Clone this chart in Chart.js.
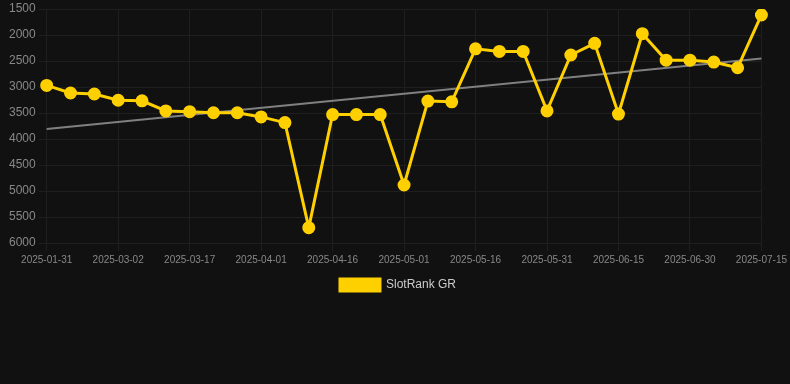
<!DOCTYPE html>
<html lang="en">
<head>
  <meta charset="UTF-8">
  <title>SlotRank GR</title>
  <script src="https://cdn.jsdelivr.net/npm/chart.js"></script>
  <style>
    html, body { margin: 0; padding: 0; background: #111111; }
    .wrap { width: 790px; height: 384px; position: relative; }
  </style>
</head>
<body>
<div class="wrap"><canvas id="rankChart"></canvas></div>
<script>
const dates = [
  "2025-01-31","2025-02-10","2025-02-20","2025-03-02","2025-03-07","2025-03-12",
  "2025-03-17","2025-03-22","2025-03-27","2025-04-01","2025-04-06","2025-04-11",
  "2025-04-16","2025-04-21","2025-04-26","2025-05-01","2025-05-06","2025-05-11",
  "2025-05-16","2025-05-21","2025-05-26","2025-05-31","2025-06-05","2025-06-10",
  "2025-06-15","2025-06-20","2025-06-25","2025-06-30","2025-07-05","2025-07-10",
  "2025-07-15"
];
const rankGR = [
  2970, 3115, 3135, 3255, 3265, 3460, 3475, 3495, 3495, 3575, 3685, 5705,
  3530, 3530, 3530, 4885, 3270, 3285, 2265, 2315, 2315, 3460, 2385, 2160,
  3520, 1975, 2485, 2485, 2520, 2630, 1615
];
const trendStart = 3810;
const trendEnd = 2450;
const trend = dates.map((d, i) => i === 0 ? trendStart : (i === dates.length - 1 ? trendEnd : null));

const tickFont = { size: 10, family: 'Arial, "Liberation Sans", sans-serif' };

new Chart(document.getElementById('rankChart'), {
  type: 'line',
  data: {
    labels: dates,
    datasets: [
      {
        label: 'SlotRank GR',
        data: rankGR,
        borderColor: '#ffd000',
        backgroundColor: '#ffd000',
        borderWidth: 3,
        pointRadius: 5,
        pointHoverRadius: 6,
        tension: 0
      },
      {
        label: 'Trend',
        data: trend,
        spanGaps: true,
        borderColor: '#808080',
        borderWidth: 2,
        pointRadius: 0,
        fill: false
      }
    ]
  },
  options: {
    responsive: true,
    maintainAspectRatio: false,
    animation: false,
    layout: { padding: { top: 0, right: 0, bottom: 83, left: 6 } },
    plugins: {
      tooltip: { enabled: false },
      legend: {
        position: 'bottom',
        labels: {
          color: '#cccccc',
          font: { size: 12, family: 'Arial, "Liberation Sans", sans-serif' },
          boxWidth: 40,
          boxHeight: 12,
          filter: item => item.text !== 'Trend'
        }
      }
    },
    scales: {
      x: {
        grid: { color: ctx => ctx.index % 3 === 0 ? '#1f1f1f' : 'rgba(0,0,0,0)' },
        border: { color: '#1f1f1f' },
        ticks: {
          color: '#888888',
          autoSkip: false,
          maxRotation: 0,
          font: tickFont,
          callback: function (v, i) { return i % 3 === 0 ? this.getLabelForValue(v) : ''; }
        }
      },
      y: {
        reverse: true,
        min: 1500,
        max: 6000,
        grid: { color: '#1f1f1f' },
        border: { color: '#1f1f1f' },
        ticks: {
          color: '#888888',
          stepSize: 500,
          font: { size: 12, lineHeight: 0.8, family: 'Arial, "Liberation Sans", sans-serif' },
          callback: v => String(v)
        }
      }
    }
  }
});
</script>
</body>
</html>
